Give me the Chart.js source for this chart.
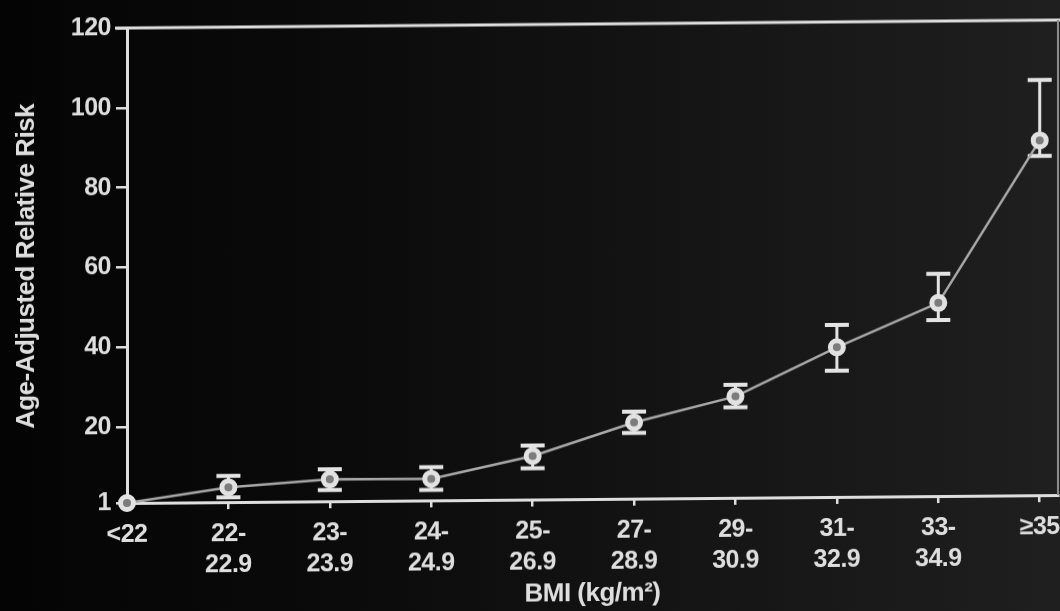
<!DOCTYPE html>
<html>
<head>
<meta charset="utf-8">
<script src="https://cdn.jsdelivr.net/npm/chart.js@4"></script>
<style>
  html, body { margin: 0; padding: 0; background: #050505; }
  #wrap {
    width: 1060px; height: 611px; position: relative; overflow: hidden;
    background: linear-gradient(to right, #040404 0%, #0a0a0a 30%, #161616 70%, #1f1f1f 100%);
  }
  /* slide was scanned a little out of square */
  #bmi-risk { transform: skewY(-0.49deg); transform-origin: 127px 503px; }
</style>
</head>
<body>
<div id="wrap"><canvas id="bmi-risk"></canvas></div>
<script>
// ─── Data ─────────────────────────────────────────────

const BMI_GROUPS = ['<22', ['22-', '22.9'], ['23-', '23.9'], ['24-', '24.9'], ['25-', '26.9'],
                    ['27-', '28.9'], ['29-', '30.9'], ['31-', '32.9'], ['33-', '34.9'], '≥35'];
const RISK       = [1, 4.7, 6.5, 6.4, 11.9, 20.1, 26.4, 38.5, 49.4, 89.9];
const RISK_LOW   = [null, 2.2, 3.8, 3.6, 8.8, 17.5, 23.7, 32.6, 45.1, 86.0];
const RISK_HIGH  = [null, 7.6, 9.0, 9.3, 14.5, 22.8, 29.3, 44.1, 56.7, 105.0];
const Y_TICKS    = [1, 20, 40, 60, 80, 100, 120];

// ─── Style ────────────────────────────────────────────

const INK        = '#dedede';
const FAMILY     = "'Liberation Sans', Arial, sans-serif";
const TICK_FONT  = { family: FAMILY, weight: 'bold', size: 25, lineHeight: 1.26 };
const TITLE_FONT = { family: FAMILY, weight: 'bold', size: 26, lineHeight: 1 };

// top and right edges of the plot frame
const framePlugin = {
    id: 'frame',
    beforeDraw(chart) {
        chart.ctx.letterSpacing = '-0.5px';
    },
    afterDraw(chart) {
        const { ctx, chartArea: a } = chart;
        ctx.save();
        ctx.strokeStyle = INK;
        ctx.lineWidth = 3;
        ctx.beginPath();
        ctx.moveTo(a.left - 12, a.top);
        ctx.lineTo(1060, a.top);
        ctx.stroke();
        ctx.strokeStyle = '#8c8c8c';
        ctx.lineWidth = 2;
        ctx.beginPath();
        ctx.moveTo(a.right, a.top);
        ctx.lineTo(a.right, a.bottom);
        ctx.stroke();
        ctx.restore();
    },
};

// 95% CI bars, drawn under the markers
const errorBars = {
    id: 'errorBars',
    beforeDatasetsDraw(chart) {
        const { ctx, scales: { x, y } } = chart;
        ctx.save();
        ctx.strokeStyle = '#e4e4e4';
        RISK.forEach((_, i) => {
            if (RISK_LOW[i] == null) return;
            const px = x.getPixelForValue(i);
            const lo = y.getPixelForValue(RISK_LOW[i]);
            const hi = y.getPixelForValue(RISK_HIGH[i]);
            ctx.lineWidth = 3;
            ctx.beginPath();
            ctx.moveTo(px, lo);
            ctx.lineTo(px, hi);
            ctx.stroke();
            ctx.lineWidth = 4;
            ctx.beginPath();
            ctx.moveTo(px - 12, hi);
            ctx.lineTo(px + 12, hi);
            ctx.moveTo(px - 12, lo);
            ctx.lineTo(px + 12, lo);
            ctx.stroke();
        });
        ctx.restore();
    },
};

new Chart(document.getElementById('bmi-risk'), {
    type: 'line',
    data: {
        datasets: [{
            data: RISK.map((v, i) => ({ x: i, y: v })),
            borderColor: '#a8a8a8',
            borderWidth: 2.5,
            pointRadius: 6.5,
            pointBorderWidth: 5,
            pointBorderColor: '#e2e2e2',
            pointBackgroundColor: '#7c7c7c',
            clip: false,
            tension: 0,
        }],
    },
    options: {
        responsive: true,
        maintainAspectRatio: false,
        animation: false,
        layout: { autoPadding: false, padding: { top: 28, right: 2, left: 0, bottom: 0 } },
        plugins: { legend: { display: false }, tooltip: { enabled: false } },
        scales: {
            x: {
                type: 'linear',
                min: 0,
                max: 9.18,
                afterBuildTicks: s => { s.ticks = BMI_GROUPS.map((_, i) => ({ value: i })); },
                afterFit: s => {
                    // the last label may hang past the frame
                    s.height = 108;
                    s.paddingLeft = 0;
                    s.paddingRight = 0;
                },
                border: { color: INK, width: 3 },
                grid: { drawOnChartArea: false, color: INK, lineWidth: 2.5, tickLength: 7 },
                ticks: {
                    color: INK,
                    font: TICK_FONT,
                    padding: 9,
                    maxRotation: 0,
                    autoSkip: false,
                    callback: v => BMI_GROUPS[v],
                },
                title: {
                    display: true,
                    text: 'BMI (kg/m²)',
                    color: INK,
                    font: TITLE_FONT,
                    padding: { top: 0, bottom: 0 },
                },
            },
            y: {
                min: 1,
                max: 120,
                afterBuildTicks: s => { s.ticks = Y_TICKS.map(v => ({ value: v })); },
                afterFit: s => { s.width = 127; },
                border: { color: INK, width: 3 },
                grid: { drawOnChartArea: false, color: INK, lineWidth: 2.5, tickLength: 11 },
                ticks: { color: INK, font: TICK_FONT, padding: 5 },
                title: {
                    display: true,
                    text: 'Age-Adjusted Relative Risk',
                    color: INK,
                    font: TITLE_FONT,
                    padding: { top: 14, bottom: 0 },
                },
            },
        },
    },
    plugins: [framePlugin, errorBars],
});
</script>
</body>
</html>
